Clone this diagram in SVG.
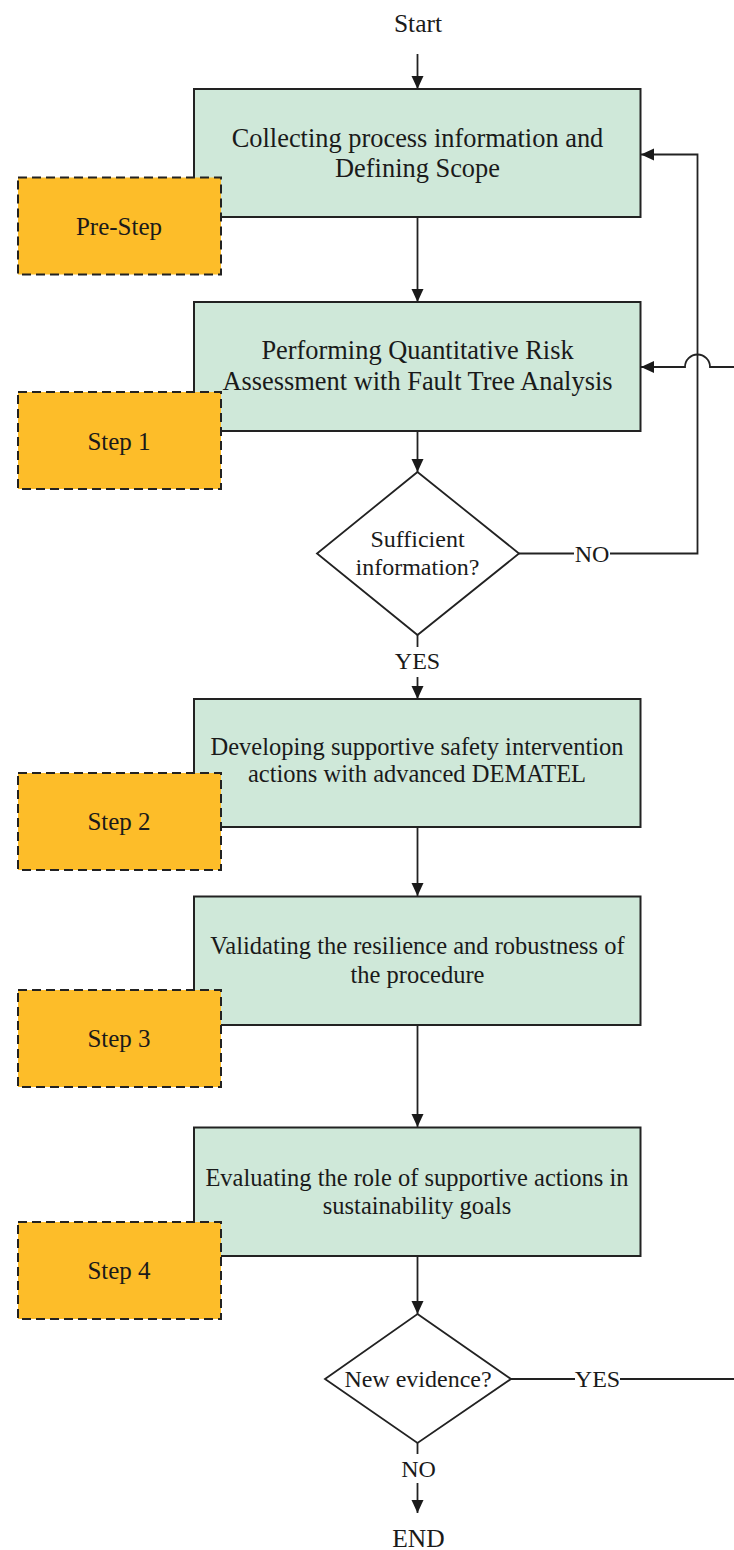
<svg xmlns="http://www.w3.org/2000/svg" width="734" height="1550" viewBox="0 0 734 1550">
<style>
text{font-family:"Liberation Serif","Times New Roman",serif;fill:#1a1a1a;text-anchor:middle}
.box{fill:#cfe8d9;stroke:#222;stroke-width:2}
.step{fill:#fdbd29;stroke:#222;stroke-width:2;stroke-dasharray:9 5}
.dia{fill:#fff;stroke:#222;stroke-width:1.8}
.c{fill:none;stroke:#222;stroke-width:1.8}
.a{marker-end:url(#ah)}
.t1{font-size:26.4px}
.t2{font-size:24.5px}
.ts{font-size:25px}
.tl{font-size:24px}
</style>
<defs>
<marker id="ah" markerUnits="userSpaceOnUse" markerWidth="14" markerHeight="13" refX="13" refY="6" orient="auto">
<path d="M0,0 L13,6 L0,12 z" fill="#1a1a1a"/>
</marker>
</defs>
<rect width="734" height="1550" fill="#fff"/>

<g id="connectors">
<line class="c a" x1="417.5" y1="54" x2="417.5" y2="89"/>
<line class="c a" x1="417.5" y1="217" x2="417.5" y2="302"/>
<line class="c a" x1="417.5" y1="431" x2="417.5" y2="472"/>
<line class="c" x1="417.5" y1="635" x2="417.5" y2="647"/>
<line class="c a" x1="417.5" y1="677" x2="417.5" y2="699"/>
<line class="c a" x1="417.5" y1="827" x2="417.5" y2="896"/>
<line class="c a" x1="417.5" y1="1025" x2="417.5" y2="1127"/>
<line class="c a" x1="417.5" y1="1256" x2="417.5" y2="1314"/>
<line class="c" x1="417.5" y1="1443" x2="417.5" y2="1454"/>
<line class="c a" x1="417.5" y1="1483" x2="417.5" y2="1513"/>
<path class="c" d="M519,553.5 H574"/>
<path class="c a" d="M610,553.5 H697.5 V154.5 H641"/>
<path class="c a" d="M734,367 H710 A12.5,12.5 0 0 0 685,367 H641"/>
<path class="c" d="M511,1379 H575"/>
<path class="c" d="M620,1379 H734"/>
<text class="tl" x="592" y="561.5">NO</text>
<text class="tl" x="417.5" y="669">YES</text>
<text class="tl" x="597.5" y="1387">YES</text>
<text class="tl" x="418.5" y="1477">NO</text>
</g>

<g id="start"><text style="font-size:25.5px" x="418" y="32">Start</text></g>
<g id="end"><text style="font-size:25.5px" x="418.5" y="1547">END</text></g>

<g id="box1">
<rect class="box" x="194" y="89" width="446.5" height="128"/>
<text class="t1" x="417.5" y="147">Collecting process information and</text>
<text class="t1" x="417.5" y="177">Defining Scope</text>
</g>
<g id="box2">
<rect class="box" x="194" y="302" width="446.5" height="129"/>
<text class="t1" x="417.5" y="359">Performing Quantitative Risk</text>
<text class="t1" x="417.5" y="390">Assessment with Fault Tree Analysis</text>
</g>
<g id="decision1">
<polygon class="dia" points="417.5,472 519,553.5 417.5,635 317,553.5"/>
<text class="tl" x="417.5" y="547">Sufficient</text>
<text class="tl" x="417.5" y="575">information?</text>
</g>
<g id="box3">
<rect class="box" x="194" y="699" width="446.5" height="128"/>
<text class="t2" x="417" y="755">Developing supportive safety intervention</text>
<text class="t2" x="417" y="782">actions with advanced DEMATEL</text>
</g>
<g id="box4">
<rect class="box" x="194" y="896.5" width="446.5" height="128.5"/>
<text class="t2" x="417.5" y="954">Validating the resilience and robustness of</text>
<text class="t2" x="417.5" y="982.5">the procedure</text>
</g>
<g id="box5">
<rect class="box" x="194" y="1127.5" width="446.5" height="128.5"/>
<text class="t2" x="417" y="1186">Evaluating the role of supportive actions in</text>
<text class="t2" x="417" y="1214">sustainability goals</text>
</g>
<g id="decision2">
<polygon class="dia" points="417.5,1314 511,1379 417.5,1443 325,1379"/>
<text class="tl" x="418" y="1387">New evidence?</text>
</g>

<g id="prestep">
<rect class="step" x="18" y="177.5" width="203" height="97"/>
<text class="ts" x="119" y="235">Pre-Step</text>
</g>
<g id="step1">
<rect class="step" x="18" y="392" width="203" height="97"/>
<text class="ts" x="119" y="450">Step 1</text>
</g>
<g id="step2">
<rect class="step" x="18" y="773" width="203" height="97"/>
<text class="ts" x="119" y="830">Step 2</text>
</g>
<g id="step3">
<rect class="step" x="18" y="990" width="203" height="97"/>
<text class="ts" x="119" y="1047">Step 3</text>
</g>
<g id="step4">
<rect class="step" x="18" y="1222" width="203" height="97"/>
<text class="ts" x="119" y="1279">Step 4</text>
</g>
</svg>
